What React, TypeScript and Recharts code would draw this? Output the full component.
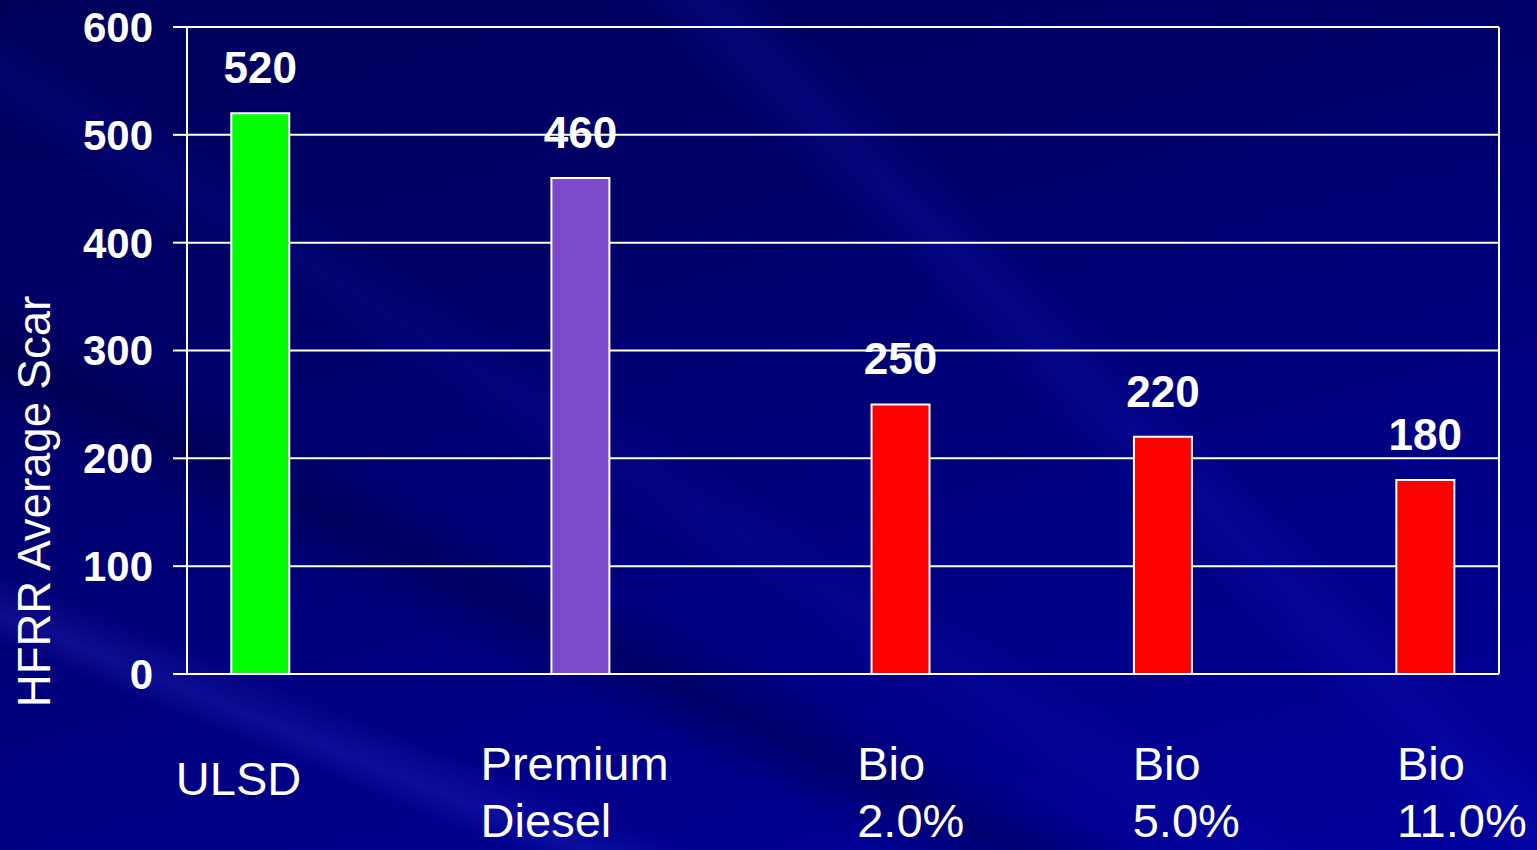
import React from "react";
import { BarChart, Bar, XAxis, YAxis, CartesianGrid, Cell, LabelList, ReferenceLine } from "recharts";

const categories: string[][] = [["ULSD"], ["Premium", "Diesel"], ["Bio", "2.0%"], ["Bio", "5.0%"], ["Bio", "11.0%"]];
const positions = [0.28, 1.5, 2.72, 3.72, 4.72];
const values = [520, 460, 250, 220, 180];
const barColors = ["#00ff00", "#7b4bcc", "#ff0000", "#ff0000", "#ff0000"];
const yTicks = [0, 100, 200, 300, 400, 500, 600];

const data = categories.map((c, i) => ({ pos: positions[i], value: values[i], lines: c }));

const FONT = "'Liberation Sans', Arial, Helvetica, sans-serif";

let ctx: CanvasRenderingContext2D | null = null;
function measure(text: string, font: string): number {
  if (!ctx) {
    const c = document.createElement("canvas");
    ctx = c.getContext("2d");
  }
  if (!ctx) return text.length * 25;
  ctx.font = font;
  return ctx.measureText(text).width;
}

const XTick = (props: any) => {
  const { x, y, index } = props;
  const lines: string[] = categories[index] || [];
  const fs = 47;
  const widest = Math.max(...lines.map((l) => measure(l, `${fs}px ${FONT}`)));
  const shift = (x - 700) * 0.05;
  const startX = x - widest / 2 + shift;
  if (lines.length === 1) {
    return (
      <text x={startX} y={y + 121} fill="#ffffff" fontSize={fs} fontFamily={FONT} textAnchor="start">
        {lines[0]}
      </text>
    );
  }
  return (
    <g>
      {lines.map((l, i) => (
        <text key={i} x={startX} y={y + 106 + i * 57} fill="#ffffff" fontSize={fs} fontFamily={FONT} textAnchor="start">
          {l}
        </text>
      ))}
    </g>
  );
};

const YLabel = (props: any) => {
  const vb = props.viewBox || { x: 0, y: 0, width: 0, height: 0 };
  const cx = vb.x + 50;
  const cy = vb.y + vb.height / 2 + 151;
  return (
    <text
      x={cx}
      y={cy}
      transform={`rotate(-90, ${cx}, ${cy})`}
      textAnchor="middle"
      fill="#ffffff"
      fontSize={45.5}
      fontFamily={FONT}
    >
      HFRR Average Scar
    </text>
  );
};

export default function App() {
  return (
    <div
      style={{
        position: "absolute",
        left: 0,
        top: 0,
        width: 1537,
        height: 850,
        overflow: "hidden",
        background: [
          "linear-gradient(22deg, rgba(0,0,0,0) 0%, rgba(0,0,0,0) 14%, rgba(60,60,220,0.22) 16%, rgba(0,0,0,0) 19%, rgba(0,0,0,0) 100%)",
          "linear-gradient(26deg, rgba(0,0,0,0) 0%, rgba(0,0,0,0) 27%, rgba(0,0,50,0.35) 31%, rgba(0,0,0,0) 35%, rgba(0,0,0,0) 100%)",
          "linear-gradient(32deg, rgba(0,0,0,0) 0%, rgba(0,0,0,0) 40%, rgba(30,30,200,0.12) 43%, rgba(0,0,0,0) 46%, rgba(0,0,0,0) 100%)",
          "linear-gradient(45deg, rgba(0,0,0,0) 0%, rgba(0,0,0,0) 62%, rgba(30,30,210,0.18) 65%, rgba(0,0,0,0) 68%, rgba(0,0,0,0) 100%)",
          "linear-gradient(165deg, #00005c 0%, #000068 30%, #000080 60%, #00009c 100%)",
        ].join(","),
      }}
    >
      <BarChart
        width={1537}
        height={850}
        data={data}
        margin={{ top: 27, right: 38, bottom: 0, left: 0 }}
      >
        <CartesianGrid vertical={false} stroke="#ffffff" strokeWidth={2} />
        <XAxis
          dataKey="pos"
          type="number"
          domain={[0, 5]}
          ticks={positions}
          interval={0}
          height={176}
          axisLine={{ stroke: "#ffffff", strokeWidth: 2 }}
          tickLine={false}
          tickSize={0}
          tickMargin={0}
          tick={<XTick />}
        />
        <YAxis
          type="number"
          domain={[0, 600]}
          ticks={yTicks}
          interval={0}
          width={187}
          axisLine={{ stroke: "#ffffff", strokeWidth: 2 }}
          tickLine={{ stroke: "#ffffff", strokeWidth: 2 }}
          tickSize={14}
          tickMargin={20}
          tick={{ fill: "#ffffff", fontSize: 42, fontWeight: "bold", fontFamily: FONT }}
          label={<YLabel />}
        />
        <ReferenceLine x={5} stroke="#ffffff" strokeWidth={2} />
        <Bar dataKey="value" barSize={58} stroke="#ffffff" strokeWidth={2} isAnimationActive={false}>
          {data.map((d, i) => (
            <Cell key={i} fill={barColors[i]} />
          ))}
          <LabelList
            dataKey="value"
            position="top"
            offset={30}
            fill="#ffffff"
            fontSize={44}
            fontWeight="bold"
            fontFamily={FONT}
          />
        </Bar>
      </BarChart>
    </div>
  );
}
